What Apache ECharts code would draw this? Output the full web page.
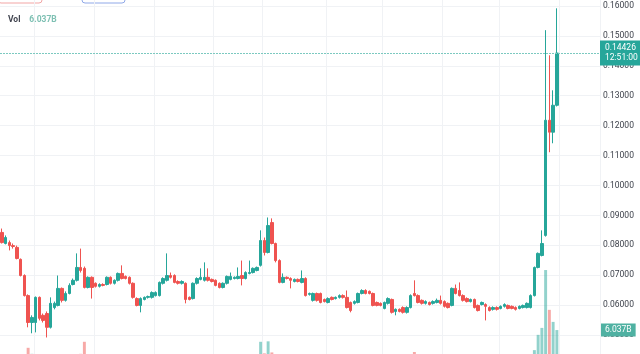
<!DOCTYPE html>
<html>
<head>
<meta charset="utf-8">
<script src="https://cdn.jsdelivr.net/npm/echarts@6/dist/echarts.min.js"></script>
<style>
  html, body { margin: 0; padding: 0; background: #fff; overflow: hidden; width: 640px; height: 354px; }
  /* the chart is taller than the window: 0.17 and 0.04 rows sit just outside the crop */
  #chart { position: absolute; left: 0; top: -24px; width: 640px; height: 389px; }
</style>
</head>
<body>
<div id="chart"></div>
<script>
// candle values (oldest -> newest)
var openP = [
  .0843,.0806,.0809,.0799,.0793,.0753,.0699,.0632,.0542,.0542,
  .0626,.0566,.0572,.0526,.0592,.0599,.0656,.0616,.0639,.0669,
  .0683,.0726,.0723,.0659,.0693,.0673,.0663,.0669,.0669,.0693,
  .0673,.0683,.0706,.0696,.0693,.0673,.0622,.0599,.0619,.0626,
  .0626,.0632,.0632,.0673,.0683,.0699,.0699,.0679,.0673,.0673,
  .0626,.0622,.0673,.0686,.0683,.0693,.0686,.0683,.0673,.0659,
  .0673,.0686,.0689,.0689,.0699,.0689,.0706,.0709,.0716,.0733,
  .0816,.0776,.0876,.0806,.0749,.0676,.0693,.0689,.0679,.0686,
  .0676,.0689,.0636,.0616,.0639,.0639,.0619,.0609,.0626,.0622,
  .0626,.0632,.0626,.0609,.0606,.0609,.0639,.0649,.0646,.0639,
  .0609,.0606,.0589,.0606,.0619,.0579,.0586,.0592,.0576,.0592,
  .0639,.0632,.0616,.0606,.0609,.0606,.0609,.0616,.0612,.0606,
  .0599,.0656,.0649,.0632,.0622,.0612,.0619,.0599,.0602,.0602,
  .0592,.0586,.0592,.0589,.0596,.0599,.0596,.0592,.0589,.0592,
  .0592,.0592,.0632,.0726,.0766,.0833,.1218,.1178,.1268
];
var closeP = [
  .0809,.0826,.0799,.0796,.0756,.0699,.0632,.0542,.0559,.0626,
  .0556,.0549,.0526,.0606,.0606,.0656,.0616,.0639,.0666,.0683,
  .0726,.0716,.0659,.0693,.0659,.0663,.0669,.0666,.0693,.0673,
  .0683,.0706,.0689,.0689,.0673,.0626,.0599,.0622,.0626,.0629,
  .0642,.0642,.0676,.0689,.0699,.0693,.0676,.0673,.0679,.0619,
  .0619,.0673,.0689,.0693,.0693,.0683,.0679,.0666,.0659,.0673,
  .0696,.0696,.0693,.0696,.0689,.0709,.0709,.0723,.0726,.0816,
  .0776,.0866,.0806,.0749,.0676,.0693,.0689,.0683,.0686,.0679,
  .0689,.0632,.0639,.0639,.0616,.0609,.0612,.0622,.0619,.0626,
  .0632,.0626,.0592,.0582,.0612,.0639,.0649,.0639,.0639,.0599,
  .0599,.0599,.0609,.0622,.0576,.0586,.0579,.0576,.0592,.0632,
  .0632,.0609,.0606,.0612,.0602,.0612,.0616,.0606,.0596,.0592,
  .0656,.0639,.0632,.0616,.0612,.0619,.0592,.0582,.0609,.0596,
  .0582,.0592,.0586,.0596,.0602,.0589,.0589,.0586,.0596,.0599,
  .0606,.0632,.0726,.0773,.0806,.1218,.1178,.1268,.14426
];
var lowP = [
  .0806,.0803,.0783,.0789,.0753,.0696,.0629,.0526,.0506,.0509,
  .0549,.0542,.0492,.0522,.0586,.0596,.0609,.0612,.0636,.0666,
  .0679,.0709,.0656,.0656,.0622,.0659,.0659,.0663,.0666,.0669,
  .0669,.0679,.0686,.0686,.0669,.0622,.0596,.0576,.0616,.0622,
  .0622,.0629,.0629,.0669,.0679,.0689,.0673,.0669,.0669,.0606,
  .0616,.0619,.0669,.0683,.0679,.0679,.0676,.0663,.0656,.0656,
  .0669,.0683,.0686,.0686,.0666,.0686,.0703,.0706,.0713,.0729,
  .0766,.0773,.0803,.0743,.0673,.0673,.0686,.0656,.0676,.0676,
  .0673,.0629,.0632,.0612,.0612,.0606,.0609,.0606,.0616,.0619,
  .0622,.0622,.0589,.0576,.0602,.0606,.0636,.0636,.0636,.0596,
  .0596,.0596,.0586,.0602,.0572,.0566,.0576,.0572,.0572,.0589,
  .0629,.0606,.0602,.0602,.0599,.0602,.0606,.0602,.0592,.0589,
  .0596,.0636,.0629,.0612,.0609,.0609,.0589,.0579,.0599,.0549,
  .0579,.0582,.0582,.0586,.0592,.0586,.0586,.0582,.0586,.0589,
  .0589,.0589,.0629,.0723,.0763,.0829,.1111,.1141,.1264
];
var highP = [
  .0856,.0833,.0816,.0806,.0799,.0756,.0703,.0636,.0566,.0629,
  .0629,.0572,.0579,.0626,.0612,.0699,.0659,.0646,.0673,.0689,
  .0773,.0789,.0729,.0696,.0696,.0676,.0673,.0673,.0696,.0696,
  .0686,.0709,.0733,.0699,.0696,.0676,.0626,.0626,.0629,.0632,
  .0646,.0646,.0679,.0693,.0773,.0709,.0703,.0683,.0683,.0676,
  .0629,.0676,.0693,.0723,.0743,.0723,.0689,.0686,.0676,.0676,
  .0699,.0709,.0696,.0726,.0749,.0713,.0749,.0726,.0729,.0850,
  .0826,.0893,.0890,.0809,.0753,.0706,.0696,.0693,.0689,.0689,
  .0716,.0693,.0642,.0642,.0642,.0642,.0622,.0626,.0629,.0629,
  .0636,.0636,.0649,.0612,.0616,.0642,.0653,.0653,.0649,.0642,
  .0612,.0609,.0612,.0626,.0622,.0589,.0589,.0596,.0596,.0636,
  .0683,.0636,.0619,.0616,.0612,.0616,.0622,.0632,.0616,.0609,
  .0659,.0669,.0676,.0636,.0626,.0622,.0622,.0602,.0612,.0606,
  .0596,.0596,.0596,.0599,.0606,.0602,.0599,.0596,.0599,.0602,
  .0609,.0636,.0729,.0776,.0850,.1519,.1435,.1318,.1592
];
// volume in billions
var volB = [
  0.3,0.2,0.2,0.2,0.4,0.6,0.8,2.2,0.9,0.8,
  0.5,0.4,0.6,0.7,0.3,0.6,0.4,0.3,0.3,0.3,
  0.5,0.9,3.5,0.3,0.4,0.2,0.2,0.2,0.3,0.2,
  0.2,0.3,0.3,0.2,0.2,0.4,0.4,0.4,0.2,0.2,
  0.2,0.2,0.4,0.3,0.4,0.2,0.3,0.2,0.2,0.5,
  0.2,0.4,0.3,0.3,0.4,0.3,0.2,0.2,0.3,0.2,
  0.3,0.2,0.2,0.3,0.4,0.3,0.3,0.3,0.3,3.5,
  1.0,3.6,1.2,0.8,0.7,0.4,0.2,0.3,0.2,0.2,
  0.3,0.5,0.2,0.2,0.2,0.3,0.2,0.2,0.2,0.2,
  0.2,0.2,0.4,0.3,0.2,0.3,0.3,0.2,0.2,0.4,
  0.2,0.2,0.2,0.2,0.4,0.2,0.2,0.2,0.2,0.3,
  1.3,0.3,0.2,0.2,0.2,0.2,0.2,0.3,0.2,0.2,
  0.5,0.3,0.3,0.2,0.2,0.2,0.3,0.3,0.2,0.3,
  0.2,0.2,0.2,0.2,0.2,0.2,0.2,0.2,0.2,0.2,
  0.3,0.4,1.7,5.0,6.5,19,10.4,7.8,6.037
];
var lastPrice = 0.14426;
var lastTime = '12:51:00';
var lastVolLabel = '6.037B';
var emptySlots = 11;          // blank space to the right of the last candle
var dayLines = [9, 25, 41, 57, 70, 87, 102, 118, 133, 149];

var UP = '#26a69a', DOWN = '#ef5350';

var cats = [];
for (var i = 0; i < openP.length + emptySlots; i++) cats.push(String(i));

var candles = openP.map(function (o, i) {
  return [o, closeP[i], lowP[i], highP[i]];
});
var vols = volB.map(function (v, i) {
  return {
    value: v,
    itemStyle: { color: closeP[i] >= openP[i] ? 'rgba(38,166,154,0.5)' : 'rgba(239,83,80,0.5)' }
  };
});

var myChart = echarts.init(document.getElementById('chart'));
var option = {
  animation: false,
  backgroundColor: '#fff',
  textStyle: { fontFamily: 'Roboto, sans-serif' },
  title: {
    text: '{a|Vol}  {b|' + lastVolLabel + '}',
    left: 3,
    top: 30,
    textStyle: {
      rich: {
        a: { color: '#434651', fontSize: 8.5 },
        b: { color: '#7ec0b3', fontSize: 8.5 }
      }
    }
  },
  graphic: [
    { type: 'rect', shape: { x: -2, y: 14, width: 44, height: 13, r: 3 }, style: { fill: '#fff', stroke: '#f2a5a5', lineWidth: 1 } },
    { type: 'rect', shape: { x: 82, y: 14, width: 43, height: 13, r: 3 }, style: { fill: '#fff', stroke: '#8fa8e8', lineWidth: 1 } }
  ],
  grid: [
    { left: 0, right: 40, top: 0, bottom: 0, outerBoundsMode: 'none' },
    { left: 0, right: 40, bottom: 7, height: 100, outerBoundsMode: 'none' }
  ],
  xAxis: [
    {
      type: 'category', data: cats, gridIndex: 0, boundaryGap: true,
      axisLine: { show: false }, axisTick: { show: false }, axisLabel: { show: false },
      splitLine: {
        show: true,
        interval: function (idx) { return dayLines.indexOf(idx) >= 0; },
        lineStyle: { color: '#f0f2f5', width: 1 }
      }
    },
    { type: 'category', data: cats, gridIndex: 1, show: false }
  ],
  yAxis: [
    {
      type: 'value', gridIndex: 0, position: 'right',
      min: 0.04, max: 0.17, interval: 0.01,
      axisLine: { show: false }, axisTick: { show: false },
      axisLabel: {
        formatter: function (v) { return v.toFixed(5); },
        color: '#3a3e48', fontSize: 8.5, margin: 3
      },
      splitLine: { lineStyle: { color: '#f0f2f5', width: 1 } }
    },
    { type: 'value', gridIndex: 1, min: 0, max: 21.6, show: false }
  ],
  series: [
    {
      type: 'bar', xAxisIndex: 1, yAxisIndex: 1, data: vols,
      barWidth: '78%', z: 1,
      markLine: {
        silent: true, symbol: ['none', 'none'], precision: 3,
        lineStyle: { color: 'rgba(0,0,0,0)', width: 0 },
        label: {
          position: 'end', distance: 1, formatter: lastVolLabel,
          color: '#fff', backgroundColor: '#4fb1a2', fontSize: 8.5,
          padding: [2, 4, 2, 4], opacity: 1
        },
        data: [{ yAxis: volB[volB.length - 1] }]
      }
    },
    {
      type: 'candlestick', data: candles, barWidth: '78%', z: 3,
      itemStyle: { color: UP, color0: DOWN, borderColor: UP, borderColor0: DOWN, borderWidth: 1 },
      markLine: {
        silent: true, symbol: ['none', 'none'], precision: 5,
        label: {
          position: 'end', distance: 0,
          formatter: lastPrice.toFixed(5) + '\n' + lastTime,
          color: '#fff', backgroundColor: UP, fontSize: 8.5, lineHeight: 10,
          padding: [3, 4, 2, 5], opacity: 1
        },
        data: [{
          yAxis: lastPrice,
          lineStyle: { color: '#7cc9c0', type: [2, 1], width: 1, opacity: 1 }
        }]
      }
    }
  ]
};
myChart.setOption(option);
</script>
</body>
</html>
